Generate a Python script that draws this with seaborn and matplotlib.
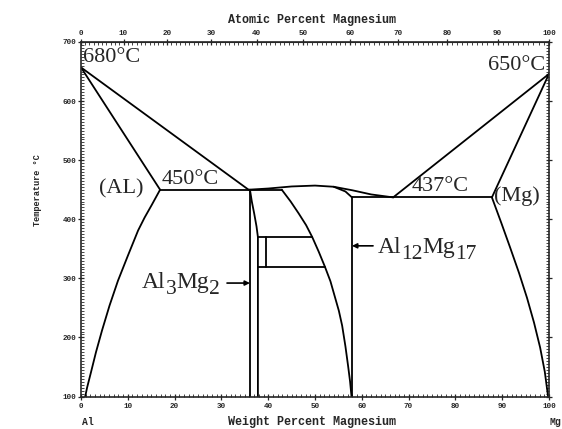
import matplotlib
matplotlib.use("Agg")
import numpy as np
import pandas as pd
import matplotlib.pyplot as plt
import seaborn as sns
from matplotlib.ticker import MultipleLocator
from matplotlib.transforms import offset_copy

# Phase boundaries, weight % Mg vs temperature (deg C)
liq_al_x = [0, 35.8]
liq_al_t = [657, 450]
sol_al_x = [0, 16.9]
sol_al_t = [657, 450]
solv_al_x = [16.9, 15.1, 13.6, 12.2, 10.0, 7.9, 6.1, 4.5, 3.2, 2.1, 1.3, 0.9]
solv_al_t = [450, 424, 403, 381, 338, 296, 254, 212, 175, 140, 115, 100]
eut450_x = [16.9, 42.9]
eut450_t = [450, 450]
b_left_x = [36.1, 36.1]
b_left_t = [450, 100]
b_right_x = [36.1, 36.5, 37.0, 37.5, 37.8, 37.8]
b_right_t = [450, 430, 410, 388, 370, 100]
g_left_x = [42.9, 44.8, 46.5, 48.1, 49.4, 50.8, 52.1, 53.3, 54.2, 55.1, 55.8, 56.5, 57.1, 57.5, 57.8]
g_left_t = [450, 430, 410, 390, 370, 345, 320, 295, 270, 245, 220, 185, 150, 125, 100]
dome_x = [35.8, 40, 45, 50, 54, 58, 62, 66.7]
dome_t = [450, 452, 455.5, 457, 455, 449, 442, 437]
g_sol_x = [54, 56.5, 57.9]
g_sol_t = [455, 447, 437]
g_right_x = [57.9, 57.9]
g_right_t = [437, 100]
eut437_x = [57.9, 87.8]
eut437_t = [437, 437]
liq_mg_x = [66.7, 100]
liq_mg_t = [437, 646]
sol_mg_x = [87.8, 100]
sol_mg_t = [437, 646]
solv_mg_x = [87.8, 89.8, 91.7, 93.6, 95.3, 96.8, 98.1, 99.1, 99.8]
solv_mg_t = [437, 394, 352, 309, 267, 225, 183, 142, 100]
rect_top_x = [37.8, 49.4]
rect_top_t = [370, 370]
rect_bot_x = [37.8, 52.1]
rect_bot_t = [320, 320]
rect_mid_x = [39.5, 39.5]
rect_mid_t = [370, 320]

segments = [
    (liq_al_x, liq_al_t), (sol_al_x, sol_al_t), (solv_al_x, solv_al_t),
    (eut450_x, eut450_t), (b_left_x, b_left_t), (b_right_x, b_right_t),
    (g_left_x, g_left_t), (dome_x, dome_t), (g_sol_x, g_sol_t),
    (g_right_x, g_right_t), (eut437_x, eut437_t), (liq_mg_x, liq_mg_t),
    (sol_mg_x, sol_mg_t), (solv_mg_x, solv_mg_t), (rect_top_x, rect_top_t),
    (rect_bot_x, rect_bot_t), (rect_mid_x, rect_mid_t),
]

rows = []
for i, (xs, ts) in enumerate(segments):
    for x, t in zip(xs, ts):
        rows.append({"seg": i, "wt": x, "T": t})
df = pd.DataFrame(rows)

x_ticks = list(range(0, 101, 10))
y_ticks = list(range(100, 701, 100))

MASS_AL = 26.98
MASS_MG = 24.305


def wt_to_at(w):
    w = np.clip(np.asarray(w, dtype=float), 0, 100)
    n_mg = w / MASS_MG
    n_al = (100 - w) / MASS_AL
    return 100 * n_mg / np.maximum(n_mg + n_al, 1e-12)


def at_to_wt(a):
    a = np.clip(np.asarray(a, dtype=float), 0, 100)
    m_mg = a * MASS_MG
    m_al = (100 - a) * MASS_AL
    return 100 * m_mg / np.maximum(m_mg + m_al, 1e-12)


sns.set_style("ticks")
plt.rcParams["font.family"] = ["Liberation Mono", "DejaVu Sans Mono"]

fig = plt.figure(figsize=(5.62, 4.29), dpi=100)
ax = fig.add_axes([81 / 562, 1 - 396.5 / 429, 468 / 562, 354.5 / 429])

sns.lineplot(data=df, x="wt", y="T", units="seg", estimator=None, sort=False,
             color="black", lw=1.3, ax=ax, legend=False)

ax.set_xlim(0, 100)
ax.set_ylim(100, 700)
ax.set_xticks(x_ticks)
ax.set_yticks(y_ticks)
ax.xaxis.set_minor_locator(MultipleLocator(1))
ax.yaxis.set_minor_locator(MultipleLocator(5))
ax.set_xlabel("")
ax.set_ylabel("")
for s in ax.spines.values():
    s.set_linewidth(1.2)
    s.set_visible(True)
ax.tick_params(which="major", direction="inout", length=5, width=0.9,
               labelsize=5.5, pad=2, right=True)
ax.tick_params(which="minor", direction="in", length=2, width=0.6, right=True)
ax.tick_params(axis="y", which="major", pad=1)
for lab in ax.get_xticklabels() + ax.get_yticklabels():
    lab.set_fontweight("bold")

secax = ax.secondary_xaxis("top", functions=(wt_to_at, at_to_wt))
secax.set_xticks(x_ticks)
secax.xaxis.set_minor_locator(MultipleLocator(1))
secax.tick_params(which="major", direction="inout", length=5, width=0.9,
                  labelsize=5.5, pad=1)
secax.tick_params(which="minor", direction="in", length=2, width=0.6)
for lab in secax.get_xticklabels():
    lab.set_fontweight("bold")

fig.text(0.5 * (81 + 549) / 562 - 0.005, 1 - 20 / 429, "Atomic Percent Magnesium",
         ha="center", va="center", fontsize=8.5, fontweight="bold")
fig.text(0.5 * (81 + 549) / 562 - 0.005, 1 - 422 / 429, "Weight Percent Magnesium",
         ha="center", va="center", fontsize=8.5, fontweight="bold")
fig.text(38 / 562, 1 - 190 / 429, "Temperature °C", rotation=90,
         ha="center", va="center", fontsize=6.2, fontweight="bold")
fig.text(82 / 562, 1 - 422 / 429, "Al", ha="left", va="center",
         fontsize=7, fontweight="bold")
fig.text(549 / 562, 1 - 422 / 429, "Mg", ha="left", va="center",
         fontsize=7, fontweight="bold")

serif = ["Liberation Serif", "DejaVu Serif"]
ax.text(0.4, 673, "680°C", family=serif, fontsize=16, ha="left", va="center")
ax.text(99.3, 661, "650°C", family=serif, fontsize=16, ha="right", va="center")
ax.text(8.5, 452, "(AL)", family=serif, fontsize=16, ha="center", va="center")
ax.text(17.3, 452, "450°C", family=serif, fontsize=16, ha="left", va="bottom")
ax.text(70.7, 439, "437°C", family=serif, fontsize=16, ha="left", va="bottom")
ax.text(88.3, 439, "(Mg)", family=serif, fontsize=16, ha="left", va="center")

renderer = fig.canvas.get_renderer()


def formula(x, y, parts, size=17, sub_size=15.5):
    dx = 0.0
    for s, sub in parts:
        tr = offset_copy(ax.transData, fig=fig, x=dx, y=-4.5 if sub else 0,
                         units="points")
        t = ax.text(x, y, s, transform=tr, family=serif,
                    fontsize=sub_size if sub else size, ha="left", va="baseline")
        dx += t.get_window_extent(renderer).width * 72 / fig.dpi


formula(13.0, 284, [("Al", False), ("3", True), ("Mg", False), ("2", True)])
formula(63.4, 343, [("Al", False), ("12", True), ("Mg", False), ("17", True)])

arrow = dict(arrowstyle="-|>", color="black", lw=1.2, mutation_scale=7,
             shrinkA=0, shrinkB=0)
ax.annotate("", xy=(36.1, 292), xytext=(31.2, 292), arrowprops=arrow)
ax.annotate("", xy=(57.9, 355), xytext=(62.4, 355), arrowprops=arrow)

fig.savefig("out.png", dpi=100)
